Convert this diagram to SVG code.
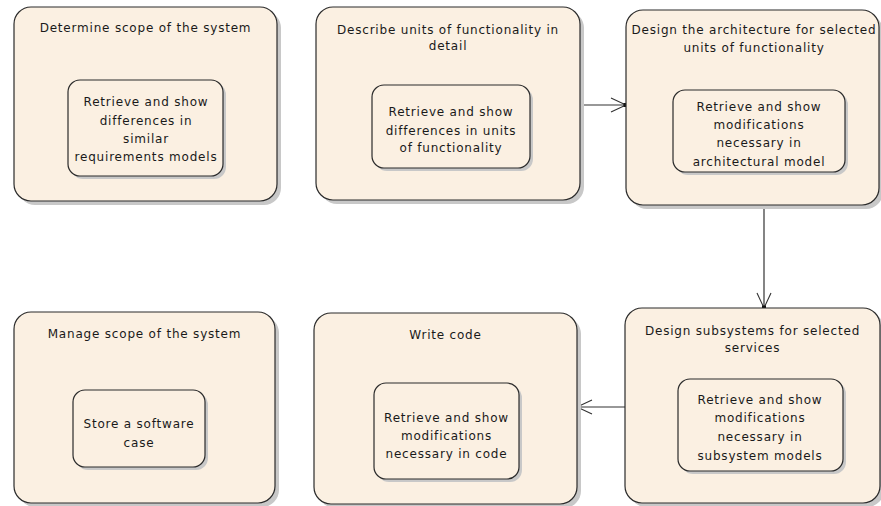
<svg xmlns="http://www.w3.org/2000/svg" width="881" height="506" viewBox="0 0 881 506">
<defs>
<style>
.shadow{fill:#c8c8c8;stroke:none}
.box{fill:#fbf0e2;stroke:#2b2b2b;stroke-width:1.2}
.inner{fill:#fbf0e2;stroke:#2b2b2b;stroke-width:1.2}
text{font-family:"DejaVu Sans","Liberation Sans",sans-serif;font-size:12px;fill:#1a1a1a;text-anchor:middle;letter-spacing:0.8px}
.conn{stroke:#333;stroke-width:1.2;fill:none}
</style>
<marker id="arr" markerUnits="userSpaceOnUse" markerWidth="20" markerHeight="18" refX="16" refY="9" orient="auto">
<path d="M1,2 L16,9 L1,16" fill="none" stroke="#333" stroke-width="1.1"/>
<rect x="13.5" y="7" width="4" height="4" fill="#111"/>
</marker>
</defs>
<rect width="881" height="506" fill="#ffffff"/>

<g id="connectors">
<line class="conn" x1="580" y1="105" x2="626" y2="105" marker-end="url(#arr)"/>
<line class="conn" x1="764" y1="205" x2="764" y2="308" marker-end="url(#arr)"/>
<line class="conn" x1="625" y1="407" x2="577" y2="407" marker-end="url(#arr)"/>
</g>

<g id="n1">
<rect class="shadow" x="18" y="11" width="263" height="194" rx="17"/>
<rect class="box" x="14" y="7" width="263" height="194" rx="17"/>
<text x="145.5" y="32">Determine scope of the system</text>
<rect class="shadow" x="71" y="83" width="155" height="96" rx="12"/>
<rect class="inner" x="68" y="80" width="155" height="96" rx="12"/>
<text x="146" y="106">Retrieve and show</text>
<text x="146" y="124.5">differences in</text>
<text x="146" y="143">similar</text>
<text x="146" y="161">requirements models</text>
</g>

<g id="n2">
<rect class="shadow" x="320" y="11" width="264" height="193" rx="17"/>
<rect class="box" x="316" y="7" width="264" height="193" rx="17"/>
<text x="448" y="34">Describe units of functionality in</text>
<text x="448" y="50">detail</text>
<rect class="shadow" x="375" y="88" width="158" height="83" rx="12"/>
<rect class="inner" x="372" y="85" width="158" height="83" rx="12"/>
<text x="451" y="116">Retrieve and show</text>
<text x="451" y="134.5">differences in units</text>
<text x="451" y="152">of functionality</text>
</g>

<g id="n3">
<rect class="shadow" x="630" y="14" width="253" height="195" rx="17"/>
<rect class="box" x="626" y="10" width="253" height="195" rx="17"/>
<text x="754" y="34">Design the architecture for selected</text>
<text x="754" y="51.5">units of functionality</text>
<rect class="shadow" x="676" y="93" width="172" height="82" rx="12"/>
<rect class="inner" x="673" y="90" width="172" height="82" rx="12"/>
<text x="759" y="110.5">Retrieve and show</text>
<text x="759" y="128.5">modifications</text>
<text x="759" y="147">necessary in</text>
<text x="759" y="166">architectural  model</text>
</g>

<g id="n4">
<rect class="shadow" x="18" y="316" width="261" height="191" rx="17"/>
<rect class="box" x="14" y="312" width="261" height="191" rx="17"/>
<text x="144.5" y="337.5">Manage scope of the system</text>
<rect class="shadow" x="76" y="393" width="132" height="77" rx="12"/>
<rect class="inner" x="73" y="390" width="132" height="77" rx="12"/>
<text x="139" y="427.5">Store a software</text>
<text x="139" y="446.5">case</text>
</g>

<g id="n5">
<rect class="shadow" x="318" y="317" width="263" height="191" rx="17"/>
<rect class="box" x="314" y="313" width="263" height="191" rx="17"/>
<text x="445.5" y="338.5">Write code</text>
<rect class="shadow" x="377" y="386" width="145" height="96" rx="12"/>
<rect class="inner" x="374" y="383" width="145" height="96" rx="12"/>
<text x="446.5" y="421.5">Retrieve and show</text>
<text x="446.5" y="439.5">modifications</text>
<text x="446.5" y="457.5">necessary in code</text>
</g>

<g id="n6">
<rect class="shadow" x="629" y="312" width="255" height="195" rx="17"/>
<rect class="box" x="625" y="308" width="255" height="195" rx="17"/>
<text x="752.5" y="334.5">Design subsystems for selected</text>
<text x="752.5" y="351.5">services</text>
<rect class="shadow" x="681" y="382" width="165" height="92" rx="12"/>
<rect class="inner" x="678" y="379" width="165" height="92" rx="12"/>
<text x="760" y="403.5">Retrieve and show</text>
<text x="760" y="421.5">modifications</text>
<text x="760" y="440.5">necessary in</text>
<text x="760" y="459.5">subsystem models</text>
</g>
</svg>
